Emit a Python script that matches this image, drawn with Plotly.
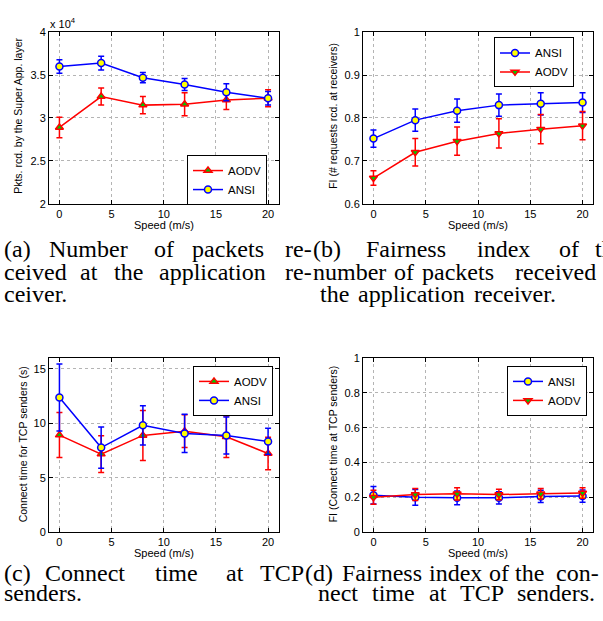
import plotly.graph_objects as go

W, H = 603, 621

speed = [0, 4, 8, 12, 16, 20]

# (a) packets received at the super application layer
a_ansi = [36000, 36400, 34700, 33900, 33000, 32300]
a_ansi_err = [800, 800, 600, 700, 1000, 800]
a_aodv = [28900, 32500, 31500, 31600, 32100, 32300]
a_aodv_err = [1200, 1000, 1000, 1350, 1100, 1000]

# (b) fairness index of # requests received
b_ansi = [0.752, 0.795, 0.817, 0.830, 0.833, 0.836]
b_ansi_err = [0.020, 0.026, 0.027, 0.026, 0.026, 0.023]
b_aodv = [0.660, 0.720, 0.746, 0.764, 0.774, 0.782]
b_aodv_err = [0.017, 0.032, 0.033, 0.034, 0.034, 0.033]

# (c) connect time at TCP senders
c_ansi = [12.38, 7.77, 9.82, 9.07, 8.89, 8.34]
c_ansi_err = [3.08, 1.90, 1.80, 1.76, 1.70, 1.20]
c_aodv = [8.92, 7.17, 8.89, 9.28, 8.77, 7.23]
c_aodv_err = [2.07, 1.70, 2.30, 1.50, 1.90, 1.50]

# (d) fairness index of connect time
d_ansi = [0.212, 0.200, 0.197, 0.197, 0.205, 0.207]
d_ansi_err = [0.050, 0.045, 0.040, 0.035, 0.035, 0.035]
d_aodv = [0.200, 0.216, 0.220, 0.216, 0.220, 0.225]
d_aodv_err = [0.040, 0.035, 0.035, 0.030, 0.030, 0.030]

a_yticks = [20000, 25000, 30000, 35000, 40000]
a_yticktext = ["2", "2.5", "3", "3.5", "4"]

BLUE = "#0000ff"
RED = "#ff0000"
YEL = "#ffff00"
GRN = "#00c800"
SANS = "Liberation Sans"
SERIF = "Liberation Serif"


def px(x):
    return x / W


def py(y):
    return 1 - y / H


fig = go.Figure()


def add_series(name, y, err, xa, ya, leg, kind):
    if kind == "ansi":
        color, sym, fill = BLUE, "circle", YEL
    elif kind == "aodv_up":
        color, sym, fill = RED, "triangle-up", GRN
    else:
        color, sym, fill = RED, "triangle-down", GRN
    fig.add_trace(go.Scatter(
        x=speed, y=y, name=name, mode="lines+markers",
        xaxis=xa, yaxis=ya, legend=leg,
        line=dict(color=color, width=1.5),
        marker=dict(symbol=sym, size=7, color=fill,
                    line=dict(color=color, width=1.5)),
        error_y=dict(type="data", array=err, visible=True,
                     color=color, thickness=1.5, width=3),
    ))


add_series("AODV", a_aodv, a_aodv_err, "x", "y", "legend", "aodv_up")
add_series("ANSI", a_ansi, a_ansi_err, "x", "y", "legend", "ansi")
add_series("ANSI", b_ansi, b_ansi_err, "x2", "y2", "legend2", "ansi")
add_series("AODV", b_aodv, b_aodv_err, "x2", "y2", "legend2", "aodv_dn")
add_series("AODV", c_aodv, c_aodv_err, "x3", "y3", "legend3", "aodv_up")
add_series("ANSI", c_ansi, c_ansi_err, "x3", "y3", "legend3", "ansi")
add_series("ANSI", d_ansi, d_ansi_err, "x4", "y4", "legend4", "ansi")
add_series("AODV", d_aodv, d_aodv_err, "x4", "y4", "legend4", "aodv_dn")

axis_common = dict(
    showline=True, linecolor="black", linewidth=1, mirror="ticks",
    ticks="inside", ticklen=4, tickcolor="black",
    showgrid=True, gridcolor="#b4b4b4", griddash="dot", gridwidth=1,
    zeroline=False, tickfont=dict(family=SANS, size=11, color="black"),
)

xdom_l = [px(49), px(278.5)]
xdom_r = [px(363), px(593)]
ydom_t = [py(201.7), py(26.7)]
ydom_b = [py(536.5), py(359)]

xcommon = dict(axis_common, range=[-1, 21], tickvals=[0, 5, 10, 15, 20])

fig.update_layout(
    width=W, height=H,
    margin=dict(l=0, r=0, t=0, b=0),
    paper_bgcolor="white", plot_bgcolor="white",
    xaxis=dict(xcommon, domain=xdom_l, anchor="y"),
    yaxis=dict(axis_common, domain=ydom_t, anchor="x", range=[20000, 40000],
               tickvals=a_yticks, ticktext=a_yticktext),
    xaxis2=dict(xcommon, domain=xdom_r, anchor="y2"),
    yaxis2=dict(axis_common, domain=ydom_t, anchor="x2", range=[0.6, 1.0],
                tickvals=[0.6, 0.7, 0.8, 0.9, 1.0],
                ticktext=["0.6", "0.7", "0.8", "0.9", "1"]),
    xaxis3=dict(xcommon, domain=xdom_l, anchor="y3"),
    yaxis3=dict(axis_common, domain=ydom_b, anchor="x3", range=[0, 16],
                tickvals=[0, 5, 10, 15]),
    xaxis4=dict(xcommon, domain=xdom_r, anchor="y4"),
    yaxis4=dict(axis_common, domain=ydom_b, anchor="x4", range=[0, 1],
                tickvals=[0, 0.2, 0.4, 0.6, 0.8, 1.0],
                ticktext=["0", "0.2", "0.4", "0.6", "0.8", "1"]),
)

leg_common = dict(
    bgcolor="white", bordercolor="black", borderwidth=1,
    font=dict(family=SANS, size=11.5, color="black"),
    xanchor="right", yanchor="top", itemwidth=30,
    tracegroupgap=0,
)
fig.update_layout(
    legend=dict(leg_common, x=px(267), y=py(152)),
    legend2=dict(leg_common, x=px(574), y=py(32)),
    legend3=dict(leg_common, x=px(273), y=py(367)),
    legend4=dict(leg_common, x=px(587), y=py(367)),
)

annots = []


def text(t, x, y, size=11, family=SANS, angle=0, xanchor="center"):
    annots.append(dict(
        text=t, x=px(x), y=py(y), xref="paper", yref="paper",
        showarrow=False, xanchor=xanchor, yanchor="middle",
        textangle=angle, font=dict(family=family, size=size, color="black"),
    ))


# axis titles
text("Pkts. rcd. by the Super App. layer", 18, 112, size=10.5, angle=-90)
text("FI (# requests rcd. at receivers)", 333, 112, size=10.5, angle=-90)
text("Connect time for TCP senders (s)", 23, 447, size=10.5, angle=-90)
text("FI (Connect time at TCP senders)", 333, 447, size=10.5, angle=-90)
text("Speed (m/s)", 164, 223, size=11)
text("Speed (m/s)", 478, 223, size=11)
text("Speed (m/s)", 164, 558, size=11)
text("Speed (m/s)", 478, 558, size=11)
text("x 10<sup>4</sup>", 48, 17, size=11, xanchor="left")

# captions (word by word, to mimic justified LaTeX sub-captions)
L1, L2, L3 = 248, 271, 294
B1, B2 = 578, 599
caption_words = [
    ("(a)", 2, L1, "left"), ("Number", 47, L1, "left"),
    ("of", 152, L1, "left"), ("packets", 190, L1, "left"),
    ("re-", 283, L1, "left"),
    ("(b)", 311, L1, "left"), ("Fairness", 364, L1, "left"),
    ("index", 475, L1, "left"), ("of", 557, L1, "left"),
    ("the", 593, L1, "left"),
    ("ceived", 2, L2, "left"), ("at", 78, L2, "left"),
    ("the", 112, L2, "left"), ("application", 157, L2, "left"),
    ("re-", 283, L2, "left"),
    ("number", 311, L2, "left"), ("of", 392, L2, "left"),
    ("packets", 420, L2, "left"), ("received", 598, L2, "right"),
    ("ceiver.", 2, L3, "left"),
    ("the", 318, L3, "left"), ("application", 356, L3, "left"),
    ("receiver.", 472, L3, "left"),
    ("(c)", 2, B1, "left"), ("Connect", 43, B1, "left"),
    ("time", 153, B1, "left"), ("at", 224, B1, "left"),
    ("TCP", 258, B1, "left"),
    ("(d)", 303, B1, "left"), ("Fairness", 340, B1, "left"),
    ("index", 427, B1, "left"), ("of", 487, B1, "left"),
    ("the", 513, B1, "left"), ("con-", 554, B1, "left"),
    ("senders.", 2, B2, "left"),
    ("nect", 316, B2, "left"), ("time", 370, B2, "left"),
    ("at", 427, B2, "left"), ("TCP", 458, B2, "left"),
    ("senders.", 597, B2, "right"),
]
for w, x, y, anc in caption_words:
    text(w, x, y, size=24, family=SERIF, xanchor=anc)

fig.update_layout(annotations=annots)

fig.write_html(
    "out.html",
    config={"displayModeBar": False},
    post_script="document.body.style.margin='0px';"
                "document.body.style.overflow='hidden';",
)
